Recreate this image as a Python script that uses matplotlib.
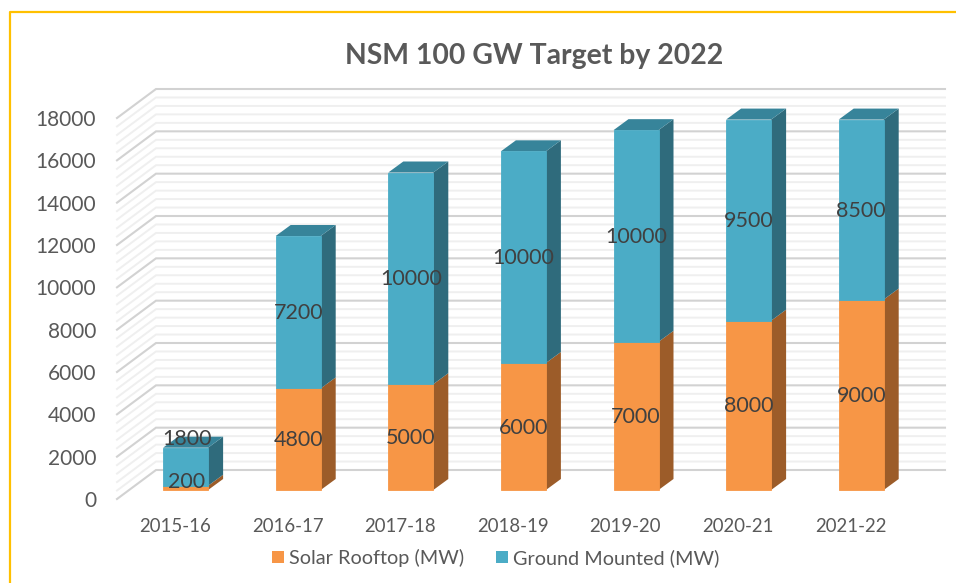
import matplotlib
matplotlib.use("Agg")
import matplotlib.pyplot as plt
from matplotlib.lines import Line2D
from matplotlib.patches import Patch
from matplotlib.transforms import ScaledTranslation

categories = ["2015-16", "2016-17", "2017-18", "2018-19", "2019-20", "2020-21", "2021-22"]
solar_rooftop = [200, 4800, 5000, 6000, 7000, 8000, 9000]
ground_mounted = [1800, 7200, 10000, 10000, 10000, 9500, 8500]
y_ticks = [0, 2000, 4000, 6000, 8000, 10000, 12000, 14000, 16000, 18000]
minor_step = 400

W, H = 956, 583
DPI = 100
plt.rcParams["font.family"] = ["Lato", "DejaVu Sans"]

fig = plt.figure(figsize=(W / DPI, H / DPI), dpi=DPI)
L, R, T, B = 117, 945, 118, 499
ax = fig.add_axes([L / W, 1 - B / H, (R - L) / W, (B - T) / H])
pitch = 112.6
c0 = 185.6
ax.set_xlim((L - c0) / pitch, (R - c0) / pitch)
ax.set_ylim(0, 18000)
for s in ax.spines.values():
    s.set_visible(False)
ppu = (B - T) / 18000

# walls / gridlines
wall_dx = 39 / pitch
wall_dy = 29 / ppu
x0, x1 = ax.get_xlim()
v = 0
while v <= 18000:
    major = v % 2000 == 0
    ax.plot([x0, x0 + wall_dx, x1], [v, v + wall_dy, v + wall_dy],
            color="#D2D2D2" if major else "#EFEFEF", lw=1.5 if major else 1.4,
            clip_on=False, zorder=2 if major else 1, solid_joinstyle="miter")
    v += minor_step

# bars
bar_tr = ax.transData + ScaledTranslation(0, 9 / DPI, fig.dpi_scale_trans)
bw = 45 / pitch
bar_dx = 15 / pitch
bar_dy = 11 / ppu
series = [(solar_rooftop, "#F79646", "#9C5C29", "#C07636"), (ground_mounted, "#4BACC6", "#2F6B7C", "#37849A")]
bottom = [0] * len(categories)
for values, front, side, top in series:
    ax.bar(range(len(categories)), values, bw, bottom=bottom, color=front,
           edgecolor=front, lw=0.6, transform=bar_tr, zorder=5, clip_on=False)
    for i, (val, b) in enumerate(zip(values, bottom)):
        xr = i + bw / 2
        ax.fill([xr, xr + bar_dx, xr + bar_dx, xr],
                [b, b + bar_dy, b + val + bar_dy, b + val],
                color=side, lw=0, transform=bar_tr, zorder=4, clip_on=False)
    bottom = [b + val for b, val in zip(bottom, values)]
for i, t in enumerate(bottom):
    xl = i - bw / 2
    xr = i + bw / 2
    ax.fill([xl, xl + bar_dx, xr + bar_dx, xr],
            [t, t + bar_dy, t + bar_dy, t],
            color=series[-1][3], lw=0, transform=bar_tr, zorder=4, clip_on=False)

# data labels (two small segments were moved by hand in the original)
label_kw = dict(ha="center", va="center", fontsize=15.5, color="#404040", zorder=8,
                xycoords=bar_tr, textcoords="offset pixels", annotation_clip=False)
base = [0] * len(categories)
for k, values in enumerate([solar_rooftop, ground_mounted]):
    for i, val in enumerate(values):
        off = (0, -1)
        if k == 0 and i == 0:
            off = (1, 6)
        if k == 1 and i == 0:
            off = (1, 28)
        ax.annotate(str(val), (i, base[i] + val / 2), xytext=off, **label_kw)
    base = [b + val for b, val in zip(base, values)]

# axes text
ax.set_yticks(y_ticks)
ax.set_yticklabels([str(t) for t in y_ticks], fontsize=15, color="#595959")
ax.tick_params(axis="y", length=0, pad=15)
ax.set_xticks([i - 10.6 / pitch for i in range(len(categories))])
ax.set_xticklabels(categories, fontsize=13.4, color="#595959")
ax.tick_params(axis="x", length=0, pad=14)

fig.text(534.5 / W, 1 - 56 / H, "NSM 100 GW Target by 2022", ha="center", va="center",
         fontsize=20.4, fontweight="bold", color="#595959")

handles = [Patch(facecolor="#F79646", label="Solar Rooftop (MW)"),
           Patch(facecolor="#4BACC6", label="Ground Mounted (MW)")]
fig.legend(handles=handles, loc="center", bbox_to_anchor=(496 / W, 1 - 558 / H), ncol=2,
           frameon=False, fontsize=14.3, labelcolor="#595959", handlelength=0.6,
           handleheight=0.6, handletextpad=0.25, columnspacing=1.6, borderpad=0)

# outer border
fig.add_artist(Line2D([9.5 / W, 9.5 / W, 1], [0, 1 - 12 / H, 1 - 12 / H], color="#FFC000", lw=1.6))

fig.savefig("out.png", dpi=DPI)
